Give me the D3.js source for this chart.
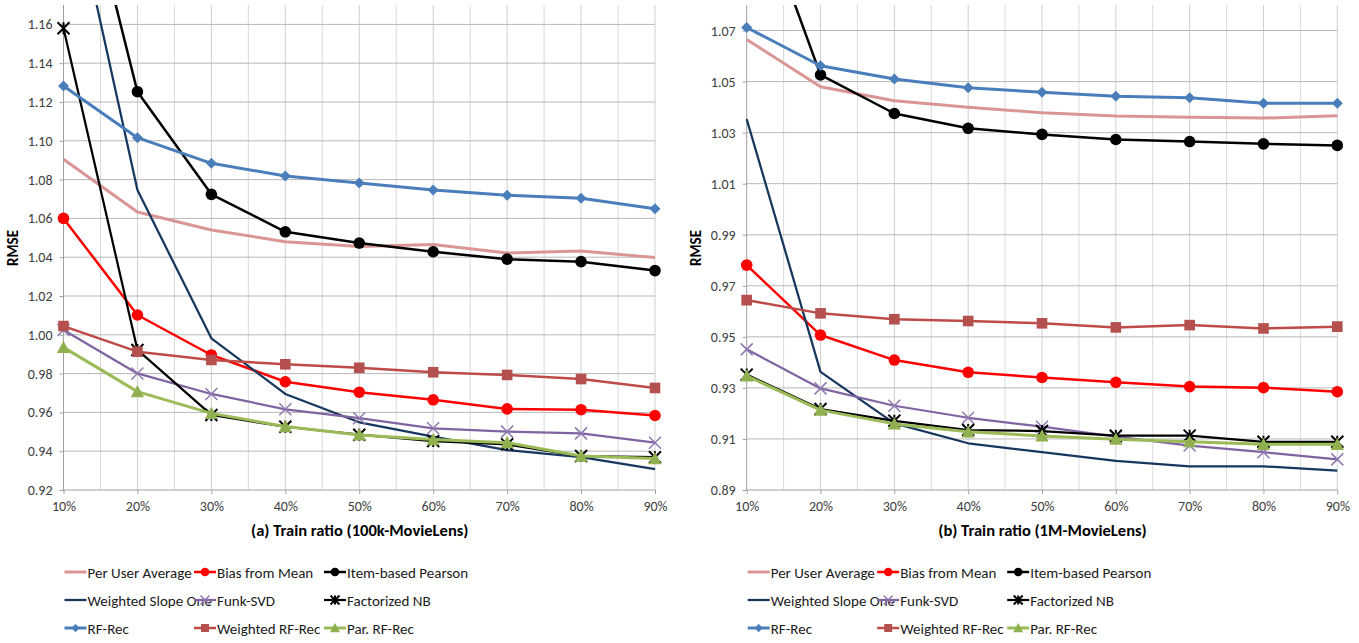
<!DOCTYPE html>
<html>
<head>
<meta charset="utf-8">
<script src="https://cdn.jsdelivr.net/npm/d3@7"></script>
<style>
  html, body { margin: 0; padding: 0; background: #fff; }
  svg { display: block; font-family: Carlito, Calibri, Lato, "Open Sans", sans-serif; }
</style>
</head>
<body>
<svg id="chart" width="1359" height="643"></svg>
<script>
// Training ratios (x categories)
const ratios = [10, 20, 30, 40, 50, 60, 70, 80, 90];
const ratioLabels = ["10%", "20%", "30%", "40%", "50%", "60%", "70%", "80%", "90%"];

// Y-axis tick labels
const yTicks100k = [0.92, 0.94, 0.96, 0.98, 1.00, 1.02, 1.04, 1.06, 1.08, 1.10, 1.12, 1.14, 1.16];
const yTicks1M = [0.89, 0.91, 0.93, 0.95, 0.97, 0.99, 1.01, 1.03, 1.05, 1.07];

// RMSE — 100k MovieLens
const perUserAvg100k   = [1.0905, 1.0633, 1.0540, 1.0480, 1.0455, 1.0465, 1.0422, 1.0432, 1.0398];
const biasFromMean100k = [1.0600, 1.0102, 0.9896, 0.9758, 0.9704, 0.9665, 0.9618, 0.9614, 0.9584];
const itemPearson100k  = [1.2775, 1.1253, 1.0724, 1.0531, 1.0473, 1.0428, 1.0390, 1.0377, 1.0331];
const slopeOne100k     = [1.2478, 1.0746, 0.9982, 0.9695, 0.9549, 0.9475, 0.9406, 0.9369, 0.9308];
const funkSvd100k      = [1.0025, 0.9801, 0.9695, 0.9616, 0.9570, 0.9518, 0.9501, 0.9492, 0.9444];
const factorNB100k     = [1.1580, 0.9922, 0.9587, 0.9526, 0.9485, 0.9452, 0.9435, 0.9375, 0.9369];
const rfRec100k        = [1.1283, 1.1016, 1.0884, 1.0819, 1.0782, 1.0746, 1.0719, 1.0704, 1.0650];
const wRfRec100k       = [1.0045, 0.9913, 0.9870, 0.9848, 0.9830, 0.9807, 0.9793, 0.9772, 0.9726];
const parRfRec100k     = [0.9935, 0.9707, 0.9595, 0.9527, 0.9484, 0.9460, 0.9444, 0.9375, 0.9362];

// RMSE — 1M MovieLens
const perUserAvg1M   = [1.0665, 1.0480, 1.0425, 1.0399, 1.0378, 1.0365, 1.0360, 1.0357, 1.0366];
const biasFromMean1M = [0.9781, 0.9507, 0.9409, 0.9361, 0.9341, 0.9322, 0.9305, 0.9301, 0.9285];
const itemPearson1M  = [1.1320, 1.0526, 1.0375, 1.0317, 1.0293, 1.0273, 1.0265, 1.0256, 1.0250];
const slopeOne1M     = [1.0353, 0.9363, 0.9161, 0.9083, 0.9048, 0.9014, 0.8993, 0.8993, 0.8976];
const funkSvd1M      = [0.9451, 0.9298, 0.9230, 0.9183, 0.9148, 0.9109, 0.9074, 0.9048, 0.9020];
const factorNB1M     = [0.9352, 0.9217, 0.9171, 0.9135, 0.9131, 0.9113, 0.9113, 0.9089, 0.9089];
const rfRec1M        = [1.0712, 1.0562, 1.0510, 1.0476, 1.0458, 1.0443, 1.0437, 1.0415, 1.0415];
const wRfRec1M       = [0.9644, 0.9592, 0.9569, 0.9562, 0.9553, 0.9537, 0.9546, 0.9533, 0.9540];
const parRfRec1M     = [0.9347, 0.9213, 0.9159, 0.9128, 0.9112, 0.9099, 0.9089, 0.9079, 0.9079];

const methodNames = ["Per User Average", "Bias from Mean", "Item-based Pearson",
                     "Weighted Slope One", "Funk-SVD", "Factorized NB",
                     "RF-Rec", "Weighted RF-Rec", "Par. RF-Rec"];

// Visual style per method (same order as methodNames)
const styles = [
  { color: "#D99694", width: 3,   marker: null },
  { color: "#FF0000", width: 2.5, marker: "circle" },
  { color: "#000000", width: 2.5, marker: "circle" },
  { color: "#17375E", width: 2.25, marker: null },
  { color: "#8064A2", width: 2.25, marker: "x" },
  { color: "#000000", width: 2.25, marker: "star" },
  { color: "#4A7EBB", width: 3,   marker: "diamond" },
  { color: "#BE4B48", width: 2.5, marker: "square" },
  { color: "#9BBB59", width: 3,   marker: "triangle" }
];
const markerFill = ["", "#FF0000", "#000000", "", "", "", "#4A7EBB", "#B4504D", "#8EB04F"];
const markerStroke = ["", "#FF0000", "#000000", "", "#8E78B0", "#000000", "#4A7EBB", "#B4504D", "#8EB04F"];

const panels = [
  { id: "a", x0: 63.5, x1: 655, y0: 5, y1: 490, domain: [0.92, 1.17], ticks: yTicks100k,
    title: "(a) Train ratio (100k-MovieLens)",
    series: [perUserAvg100k, biasFromMean100k, itemPearson100k, slopeOne100k, funkSvd100k,
             factorNB100k, rfRec100k, wRfRec100k, parRfRec100k] },
  { id: "b", x0: 746.7, x1: 1337.3, y0: 5, y1: 490, domain: [0.89, 1.08], ticks: yTicks1M,
    title: "(b) Train ratio (1M-MovieLens)",
    series: [perUserAvg1M, biasFromMean1M, itemPearson1M, slopeOne1M, funkSvd1M,
             factorNB1M, rfRec1M, wRfRec1M, parRfRec1M] }
];

const svg = d3.select("#chart");
const defs = svg.append("defs");

function markerPath(type, r) {
  switch (type) {
    case "diamond":  return `M0,${-r}L${r},0L0,${r}L${-r},0Z`;
    case "square":   return `M${-r},${-r}H${r}V${r}H${-r}Z`;
    case "triangle": { const h = r * 1.1; return `M0,${-h}L${r * 1.1},${h * 0.85}L${-r * 1.1},${h * 0.85}Z`; }
    case "x":        return `M${-r},${-r}L${r},${r}M${-r},${r}L${r},${-r}`;
    case "star":     return `M${-r},${-r}L${r},${r}M${-r},${r}L${r},${-r}M0,${-r}V${r}`;
    default: return "";
  }
}

function drawMarker(g, type, i, x, y, scale) {
  const k = scale || 1;
  if (type === "circle") {
    g.append("circle").attr("cx", x).attr("cy", y).attr("r", 5.8 * k)
      .attr("fill", markerFill[i]);
  } else if (type === "x" || type === "star") {
    g.append("path").attr("transform", `translate(${x},${y})`)
      .attr("d", markerPath(type, 6 * k))
      .attr("fill", "none").attr("stroke", markerStroke[i]).attr("stroke-width", type === "x" ? 1.5 : 2);
  } else if (type) {
    const r = type === "diamond" ? 5.5 : type === "square" ? 5.3 : 6;
    g.append("path").attr("transform", `translate(${x},${y})`)
      .attr("d", markerPath(type, r * k))
      .attr("fill", markerFill[i]);
  }
}

panels.forEach(p => {
  const x = d3.scaleLinear().domain([10, 90]).range([p.x0, p.x1]);
  const y = d3.scaleLinear().domain(p.domain).range([p.y1, p.y0]);
  const g = svg.append("g");

  // minor vertical grid (5% steps)
  g.append("g").selectAll("line").data(d3.range(15, 90, 10)).join("line")
    .attr("x1", d => x(d)).attr("x2", d => x(d)).attr("y1", p.y0).attr("y2", p.y1)
    .attr("stroke", "#D9D9D9").attr("stroke-width", 1);
  // major vertical grid
  g.append("g").selectAll("line").data(ratios.slice(1)).join("line")
    .attr("x1", d => x(d)).attr("x2", d => x(d)).attr("y1", p.y0).attr("y2", p.y1)
    .attr("stroke", "#CFCFCF").attr("stroke-width", 1);
  // horizontal grid
  g.append("g").selectAll("line").data(p.ticks.slice(1)).join("line")
    .attr("x1", p.x0).attr("x2", p.x1).attr("y1", d => y(d)).attr("y2", d => y(d))
    .attr("stroke", "#B8B8B8").attr("stroke-width", 1);

  // y axis
  const yAxis = d3.axisLeft(y).tickValues(p.ticks).tickFormat(d3.format(".2f")).tickSize(4).tickPadding(7);
  const ya = g.append("g").attr("transform", `translate(${p.x0},0)`).call(yAxis);
  ya.select(".domain").attr("stroke", "#A0A0A0").attr("d", `M0,${p.y0}V${p.y1}`);
  ya.selectAll(".tick line").attr("stroke", "#A0A0A0");
  ya.selectAll("text").attr("fill", "#404040").style("font-size", "14px")
    .style("font-family", "Carlito, Calibri, Lato, sans-serif");

  // x axis
  const xAxis = d3.axisBottom(x).tickValues(ratios).tickFormat((d, i) => ratioLabels[i]).tickSize(4).tickPadding(7);
  const xa = g.append("g").attr("transform", `translate(0,${p.y1})`).call(xAxis);
  xa.select(".domain").attr("stroke", "#A0A0A0").attr("d", `M${p.x0},0H${p.x1}`);
  xa.selectAll(".tick line").attr("stroke", "#A0A0A0");
  xa.selectAll("text").attr("fill", "#404040").style("font-size", "14px")
    .style("font-family", "Carlito, Calibri, Lato, sans-serif");

  // titles
  g.append("text").attr("x", (p.x0 + p.x1) / 2 + 0.5).attr("y", 536)
    .attr("text-anchor", "middle").attr("font-weight", "bold").attr("font-size", 16.5)
    .attr("fill", "#000").text(p.title);
  g.append("text").attr("transform", `translate(${p.x0 - 46},248) rotate(-90)`)
    .attr("text-anchor", "middle").attr("font-weight", "bold").attr("font-size", 15)
    .attr("fill", "#000").text("RMSE");

  // clip for the plot area
  defs.append("clipPath").attr("id", "clip-" + p.id).append("rect")
    .attr("x", p.x0 - 10).attr("y", p.y0).attr("width", p.x1 - p.x0 + 20).attr("height", p.y1 - p.y0 + 10);
  const plot = g.append("g").attr("clip-path", `url(#clip-${p.id})`);

  const line = d3.line().x((d, i) => x(ratios[i])).y(d => y(d));
  p.series.forEach((vals, i) => {
    const st = styles[i];
    const sg = plot.append("g");
    sg.append("path").datum(vals).attr("d", line)
      .attr("fill", "none").attr("stroke", st.color).attr("stroke-width", st.width)
      .attr("stroke-linejoin", "round");
    if (st.marker) {
      vals.forEach((v, j) => drawMarker(sg, st.marker, i, x(ratios[j]), y(v), 1));
    }
  });

  // legend
  const colX = [p.x0 + 1, p.x0 + 130.5, p.x0 + 260.5];
  const rowY = [572, 600, 628];
  methodNames.forEach((name, i) => {
    const cx = colX[i % 3], cy = rowY[Math.floor(i / 3)];
    const lg = g.append("g");
    lg.append("line").attr("x1", cx).attr("x2", cx + 22).attr("y1", cy).attr("y2", cy)
      .attr("stroke", styles[i].color).attr("stroke-width", styles[i].width);
    if (styles[i].marker) drawMarker(lg, styles[i].marker, i, cx + 11, cy, 0.75);
    lg.append("text").attr("x", cx + 23).attr("y", cy + 5.5).attr("font-size", 15)
      .attr("fill", "#1a1a1a").text(name);
  });
});
</script>
</body>
</html>
